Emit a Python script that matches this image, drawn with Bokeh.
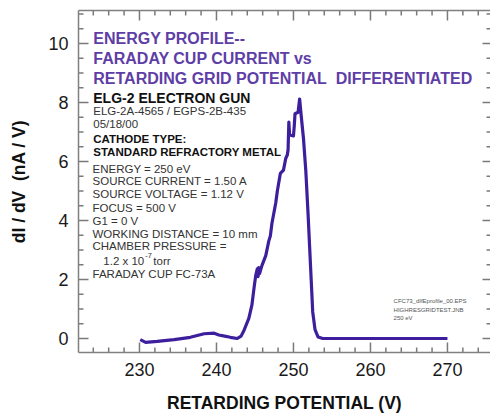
import numpy as np
from bokeh.plotting import figure
from bokeh.models import Label, LinearAxis, SingleIntervalTicker, Range1d, CustomLabelingPolicy
from bokeh.embed import file_html
from bokeh.resources import INLINE

# ---- data ----
retarding_v = [230.1, 230.8, 232.3, 234.5, 236.6, 238.4, 239.7, 240.3, 240.9, 241.8,
               242.7, 243.2, 243.6, 244.2, 244.6, 244.9, 245.1, 245.3, 245.4, 245.5,
               245.6, 245.9, 246.4, 246.8, 247.0, 247.2, 247.7, 247.9, 248.3, 248.7,
               249.0, 249.2, 249.3, 249.4, 249.5, 249.6, 250.0, 250.1, 250.2, 250.6,
               250.8, 251.0, 251.3, 251.6, 251.9, 252.1, 252.3, 252.5, 252.8, 253.2,
               253.8, 260.0, 270.0]
didv = [-0.04, -0.13, -0.10, -0.04, 0.04, 0.16, 0.18, 0.12, 0.09, 0.04,
        0.00, 0.08, 0.29, 0.68, 1.13, 1.76, 2.14, 2.36, 2.10, 2.40,
        2.20, 2.47, 2.81, 3.31, 3.48, 3.90, 4.60, 4.99, 5.60, 5.71,
        6.11, 6.22, 6.40, 7.34, 6.90, 6.89, 6.87, 7.20, 7.62, 7.67,
        8.12, 7.56, 6.78, 5.70, 4.20, 3.10, 2.00, 0.90, 0.30, 0.05,
        0.00, 0.00, 0.00]

x_major_ticks = [230, 240, 250, 260, 270]
y_major_ticks = [0, 2, 4, 6, 8, 10]
x_minor_step = 2
y_minor_step = 0.5

title_lines = ["ENERGY PROFILE--", "FARADAY CUP CURRENT vs",
               "RETARDING GRID POTENTIAL\u00a0 DIFFERENTIATED"]
gun_name = "ELG-2 ELECTRON GUN"
info_lines = ["ELG-2A-4565 / EGPS-2B-435", "05/18/00"]
cathode_lines = ["CATHODE TYPE:", "STANDARD REFRACTORY METAL"]
settings_lines = ["ENERGY = 250 eV", "SOURCE CURRENT = 1.50 A", "SOURCE VOLTAGE = 1.12 V",
                  "FOCUS = 500 V", "G1 = 0 V", "WORKING DISTANCE = 10 mm",
                  "CHAMBER PRESSURE ="]
pressure_parts = ["1.2 x 10", "-7", "torr"]
cup_line = "FARADAY CUP FC-73A"
file_lines = ["CFC73_dIfEprofile_00.EPS", "HIGHRESGRIDTEST.JNB", "250 eV"]

FONT = "Liberation Sans"
AX = "#808080"
X0, X1 = 222.08, 275.59
Y0, Y1 = -0.475, 11.12
FRAME_W, FRAME_H = 412, 342
PX_X = (X1 - X0) / FRAME_W   # data units per pixel
PX_Y = (Y1 - Y0) / FRAME_H

p = figure(width=490, height=417,
           x_range=Range1d(X0, X1), y_range=Range1d(Y0, Y1),
           output_backend="svg", toolbar_location=None,
           min_border_left=78, min_border_right=0, min_border_top=10, min_border_bottom=65)
p.outline_line_color = None
p.grid.visible = False
p.background_fill_color = "white"

hide_all = CustomLabelingPolicy(code="const all = [...indices]; for (const i of all) indices.unset(i);")

def style_axis(ax, labels=True):
    ax.axis_line_color = AX
    ax.axis_line_width = 1.5
    ax.major_tick_in = 0
    ax.major_tick_out = 0
    ax.minor_tick_in = 0
    ax.minor_tick_out = 0
    if labels:
        ax.major_label_text_font = FONT
        ax.major_label_text_font_size = "18px"
        ax.major_label_text_color = "#1a1a1a"
        ax.major_label_standoff = 10
        ax.axis_label_text_font = FONT
        ax.axis_label_text_font_size = "17.5px"
        ax.axis_label_text_font_style = "bold"
        ax.axis_label_text_color = "#111111"
    else:
        ax.major_label_text_font_size = "1px"
        ax.major_label_policy = hide_all
        ax.major_label_standoff = 0
        ax.axis_label = None

p.xaxis.ticker = SingleIntervalTicker(interval=10, num_minor_ticks=5)
p.yaxis.ticker = SingleIntervalTicker(interval=2, num_minor_ticks=4)
p.xaxis.axis_label = "RETARDING POTENTIAL (V)"
p.yaxis.axis_label = "dI / dV\u00a0 (nA / V)"
style_axis(p.xaxis[0])
style_axis(p.yaxis[0])
p.xaxis.axis_label_standoff = 14
p.yaxis.axis_label_standoff = 16

top = LinearAxis(ticker=SingleIntervalTicker(interval=10, num_minor_ticks=5))
style_axis(top, labels=False)
p.add_layout(top, "above")

# inward tick marks drawn as short segments from the frame edges
xmaj = np.array(x_major_ticks, dtype=float)
ymaj = np.array(y_major_ticks, dtype=float)
xall = np.arange(np.ceil(X0 / x_minor_step) * x_minor_step, X1, x_minor_step)
yall = np.arange(np.ceil(Y0 / y_minor_step) * y_minor_step, Y1, y_minor_step)
xmin_t = np.array([v for v in xall if not np.any(np.isclose(v, xmaj))])
ymin_t = np.array([v for v in yall if not np.any(np.isclose(v, ymaj))])

tick_style = dict(line_color="#7a7a7a", line_width=1.5)

def vticks(xs, base, length_px, direction):
    y0 = np.full(len(xs), base)
    p.segment(x0=xs, y0=y0, x1=xs, y1=y0 + direction * length_px * PX_Y, **tick_style)

def hticks(ys, base, length_px, direction):
    x0 = np.full(len(ys), base)
    p.segment(x0=x0, y0=ys, x1=x0 + direction * length_px * PX_X, y1=ys, **tick_style)

vticks(xmaj, Y0, 10, 1)
vticks(xmin_t, Y0, 5, 1)
vticks(xmaj, Y1, 10, -1)
vticks(xmin_t, Y1, 5, -1)
hticks(ymaj, X0, 10, 1)
hticks(ymin_t, X0, 5, 1)
hticks(ymaj, X1, 8, -1)
hticks(ymin_t, X1, 4, -1)

p.line(retarding_v, didv, line_color="#3d1f9e", line_width=3.2, line_join="round")

def lab(x, y, text, size, bold=False, color="#333333"):
    p.add_layout(Label(x=x, y=y, text=text, text_font=FONT, text_font_size=f"{size}px",
                       text_font_style="bold" if bold else "normal", text_color=color,
                       text_baseline="middle", text_align="left"))

TX = 224.0
for t, y in zip(title_lines, [10.17, 9.49, 8.81]):
    lab(TX, y, t, 16, True, "#5e3ea6")
lab(TX, 8.17, gun_name, 14, True, "#111111")
for t, y in zip(info_lines, [7.71, 7.28]):
    lab(TX, y, t, 11.5)
for t, y in zip(cathode_lines, [6.75, 6.32]):
    lab(TX, y, t, 11.5, True, "#111111")
for t, y in zip(settings_lines, [5.75, 5.33, 4.91, 4.43, 4.00, 3.53, 3.12]):
    lab(TX - 0.1, y, t, 11.5)
lab(225.3, 2.64, pressure_parts[0], 11.5)
lab(230.75, 2.82, pressure_parts[1], 7.5)
lab(231.8, 2.64, pressure_parts[2], 11.5)
lab(TX - 0.1, 2.19, cup_line, 11.5)
for t, y in zip(file_lines, [1.26, 0.97, 0.70]):
    lab(263.0, y, t, 6, False, "#555555")

open("out.html", "w").write(file_html(p, INLINE))
